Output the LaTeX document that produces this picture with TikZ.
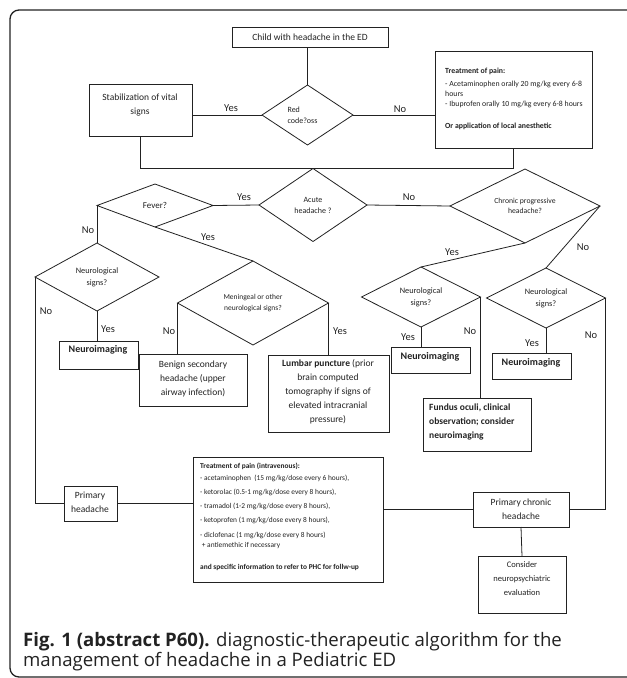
\documentclass[tikz,border=0pt]{standalone}
\usepackage{fontspec}
\setmainfont{Carlito}
\newfontfamily\capfont{Open Sans}
\usetikzlibrary{shapes.geometric}
\definecolor{ink}{HTML}{222222}
\newcommand\drawbox[5]{\node[box, minimum width={#4-#2}, minimum height={#5-#3}] (#1) at ({(#2+#4)/2},{(#3+#5)/2}) {};}
\tikzset{
  box/.style={draw=ink, line width=0.8pt, inner sep=0pt, outer sep=0pt, rectangle},
  dia/.style={draw=ink, line width=0.8pt, diamond, shape aspect=2, inner sep=0pt, outer sep=0pt, align=center, text=ink, font=\fontsize{8}{11}\selectfont},
  conn/.style={draw=ink, line width=0.8pt},
  lbl/.style={inner sep=0pt, text=ink, font=\fontsize{10.5}{12}\selectfont},
  txt/.style={inner sep=0pt, align=center, text=ink, font=\fontsize{9.5}{14}\selectfont},
  small/.style={inner sep=0pt, align=left, text=ink},
}
\begin{document}
\begin{tikzpicture}[x=1pt,y=-1pt]
\useasboundingbox (0,0) rectangle (627,678);
\fill[white] (0,0) rectangle (627,678);
\draw[line width=1.3pt, ink, rounded corners=9pt] (10,10) rectangle (636,677);

% ---- boxes ----
\drawbox{child}{232}{27}{388}{47}
\node[txt] (childt) at (310,37) {Child with headache in the ED};

\node[dia, minimum width=91pt, minimum height=60pt, align=left] (red) at (307.5,115) {Red\\code?oss\hspace*{10pt}};

\drawbox{stab}{89}{84}{192}{136}
\node[txt] (stabt) at (140,105) {Stabilization of vital\\signs};

\drawbox{tx1}{435}{51}{592}{148}
\node[small, anchor=north west, font=\fontsize{7.8}{10}\selectfont] (tx1t) at (445,67.5)
{\textbf{Treatment of pain:}\\[3pt]
- Acetaminophen orally 20 mg/kg every 6-8\\
hours\\
- Ibuprofen orally 10 mg/kg every 6-8 hours\\[12pt]
\textbf{Or application of local anesthetic}};

\node[dia, minimum width=108pt, minimum height=73pt] (acute) at (313,205) {Acute\\headache ?};
\node[dia, minimum width=116pt, minimum height=43pt, font=\fontsize{9}{11}\selectfont] (fever) at (155,205.5) {Fever?};
\node[dia, minimum width=150pt, minimum height=74pt, font=\fontsize{7.7}{10}\selectfont] (chron) at (525,206) {Chronic progressive\\headache?};

\node[dia, minimum width=124pt, minimum height=68pt, font=\fontsize{8.3}{12}\selectfont] (n1) at (97,277) {Neurological\\signs?};
\node[dia, minimum width=151pt, minimum height=84pt, font=\fontsize{7.5}{11}\selectfont] (men) at (253,303) {Meningeal or other\\neurological  signs?};
\node[dia, minimum width=119pt, minimum height=60pt, font=\fontsize{8.3}{12}\selectfont] (n2) at (421,297) {Neurological\\signs?};
\node[dia, minimum width=119pt, minimum height=60pt, font=\fontsize{8.3}{12}\selectfont] (n3) at (546,298) {Neurological\\signs?};

\drawbox{ni1}{59}{341}{138}{369}
\node[txt, font=\fontsize{10}{12}\selectfont\bfseries] (ni1t) at (98,350) {Neuroimaging};
\drawbox{ben}{139}{354}{247}{406}
\node[txt] (bent) at (193,378.5) {Benign secondary\\headache (upper\\airway infection)};
\drawbox{lp}{268}{355}{389}{432}
\node[txt, font=\fontsize{9.5}{13.9}\selectfont] (lpt) at (328,392) {\textbf{Lumbar puncture} (prior\\brain computed\\tomography if signs of\\elevated intracranial\\pressure)};
\drawbox{ni2}{391}{347}{470}{373}
\node[txt, font=\fontsize{10}{12}\selectfont\bfseries] (ni2t) at (430,357) {Neuroimaging};
\drawbox{fo}{423}{398}{531}{451}
\node[txt, align=left, anchor=west, font=\fontsize{9.5}{14}\selectfont\bfseries] (fot) at (429,422) {Fundus oculi, clinical\\observation; consider\\neuroimaging};
\drawbox{ni3}{492}{353}{571}{379}
\node[txt, font=\fontsize{10}{12}\selectfont\bfseries] (ni3t) at (531,363) {Neuroimaging};

\drawbox{ph}{64}{486}{117}{521}
\node[txt] (pht) at (90,502) {Primary\\headache};
\drawbox{tx2}{193}{457}{383}{582}
\node[small, anchor=north west, font=\fontsize{7.4}{10}\selectfont] (tx2t) at (200,463)
{\textbf{Treatment of pain (intravenous):}\\[2pt]
- acetaminophen\ \ (15 mg/kg/dose every 6 hours),\\[4pt]
- ketorolac (0.5-1 mg/kg/dose every 8 hours),\\[4pt]
- tramadol (1-2 mg/kg/dose every 8 hours),\\[4pt]
- ketoprofen (1 mg/kg/dose every 8 hours),\\[5pt]
- diclofenac (1 mg/kg/dose every 8 hours)\\
\ + antiemethic if necessary\\[12pt]
\textbf{and specific information to refer to PHC for follw-up}};
\drawbox{pc}{473}{492}{569}{527}
\node[txt] (pct) at (521,509) {Primary chronic\\headache};
\drawbox{cons}{478}{556}{566}{613}
\node[txt, font=\fontsize{8.5}{14}\selectfont] (const) at (522,579) {Consider\\neuropsychiatric\\evaluation};

% ---- connectors ----
\draw[conn] (child.south -| red.north) -- (red.north);
\draw[conn] (red.west) -- (red.west -| stab.east);
\draw[conn] (red.east) -- (red.east -| tx1.west);
\draw[conn] (stab.south) |- (acute.north);
\draw[conn] (tx1.south) |- (acute.north);
\draw[conn] (acute.west) -- (fever.east);
\draw[conn] (acute.east) -- (chron.west);
\draw[conn] (fever.west) -- (n1.north);
\draw[conn] (fever.south) -- (men.north);
\draw[conn] (n1.south) -- (n1.south |- ni1.north);
\draw[conn] (n1.west) |- (ph.west);
\draw[conn] (men.west) -- (men.west |- ben.north);
\draw[conn] (men.east) -- (men.east |- lp.north);
\draw[conn] (chron.south) -- (n2.north);
\draw[conn] (chron.east) -- (n3.north);
\draw[conn] (n2.south) -- (n2.south |- ni2.north);
\draw[conn] (n2.east) -- (n2.east |- fo.north);
\draw[conn] (n3.south) -- (n3.south |- ni3.north);
\draw[conn] (n3.east) |- (pc.east);
\draw[conn] (ph.east) -- (ph.east -| tx2.west);
\draw[conn] (pc.west) -- (pc.west -| tx2.east);
\draw[conn] (pc.south) -- (cons.north);

% ---- labels ----
\node[lbl] (l1) at (231,108) {Yes};
\node[lbl] (l2) at (400,109) {No};
\node[lbl] (l3) at (244,197) {Yes};
\node[lbl] (l4) at (409,197) {No};
\node[lbl] (l5) at (88,230) {No};
\node[lbl] (l6) at (208,237) {Yes};
\node[lbl] (l7) at (46,311) {No};
\node[lbl] (l8) at (108,329) {Yes};
\node[lbl] (l9) at (169,331) {No};
\node[lbl] (l10) at (340,331) {Yes};
\node[lbl] (l11) at (452,252) {Yes};
\node[lbl] (l12) at (583,247) {No};
\node[lbl] (l13) at (408,337) {Yes};
\node[lbl] (l14) at (470,331) {No};
\node[lbl] (l15) at (532,343) {Yes};
\node[lbl] (l16) at (591,335) {No};

% ---- caption ----
\node[inner sep=0pt, anchor=base west, align=left, text=ink, font=\capfont\fontsize{18.6}{20}\selectfont] (cap) at (23,666)
{\textbf{Fig. 1 (abstract P60).} diagnostic-therapeutic algorithm for the\\management of headache in a Pediatric ED};
\end{tikzpicture}
\end{document}
